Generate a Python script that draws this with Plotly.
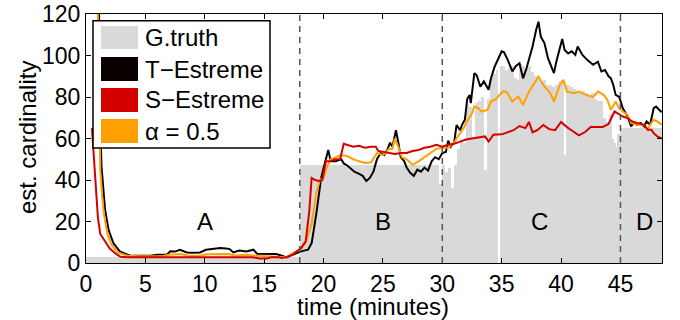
import plotly.graph_objects as go

# ---------------- data ----------------
# Ground truth: bar edges (minutes) and values
gt_edges = [0, 18, 29.5, 29.75, 30.0, 30.25, 30.5, 30.75, 31.0, 31.25, 31.5, 31.75,
            32.0, 32.25, 32.5, 32.75, 33.0, 33.25, 33.5, 33.75, 34.0, 34.25, 34.5,
            34.7, 34.82, 35.25, 35.5, 35.75, 36.0, 36.25, 36.5, 36.75, 37.0, 37.25,
            37.5, 37.75, 38.0, 38.25, 38.5, 38.75, 39.0, 39.25, 39.5, 39.75, 40.0,
            40.25, 40.4, 40.75, 41.0, 41.25, 41.5, 41.75, 42.0, 42.25, 42.5, 42.75,
            43.0, 43.25, 43.5, 43.75, 44.0, 44.25, 44.5, 44.65, 44.75, 45.0, 48.5]
gt_values = [3, 47, 47, 38, 47, 44, 46, 36, 47, 55, 60, 58,
             76, 75, 60, 77, 78, 80, 45, 79, 89, 91, 93,
             0, 95, 93, 94, 95, 89, 88, 96, 95, 94, 95,
             92, 90, 88, 87, 88, 86, 86, 85, 86, 87, 88,
             52, 86, 85, 84, 83, 82, 83, 82, 81, 82, 79,
             78, 78, 70, 68, 72, 60, 58, 56, 62, 65]

t_time = [1.1, 1.15, 1.3, 1.45, 1.6, 1.9, 2.3, 2.85, 3.7, 4.5, 5.4, 6.0, 6.8, 7.1, 7.5, 7.9,
          8.5, 9.0, 9.6, 10.1, 10.7, 11.3, 11.8, 12.1, 12.4, 12.9, 13.5, 14.1, 14.4, 15.2,
          16.0, 16.5, 16.9, 17.4, 18.1, 18.7, 19.0, 19.4, 19.8, 20.1, 20.4, 20.6, 21.0,
          21.5, 21.7, 22.0, 22.3, 22.6, 23.0, 23.3, 23.6, 23.9, 24.2, 24.5, 24.8, 25.1,
          25.4, 25.6, 25.8, 26.0, 26.1, 26.3, 26.5, 26.8, 27.0, 27.3, 27.6, 27.9, 28.2,
          28.5, 28.8, 29.1, 29.4, 29.7, 30.0, 30.3, 30.5, 30.7, 31.0, 31.2, 31.5, 31.7,
          31.9, 32.1, 32.3, 32.4, 32.7, 32.9, 33.2, 33.5, 33.9, 34.1, 34.4, 34.8, 35.0,
          35.2, 35.5, 35.9, 36.2, 36.5, 36.8, 37.1, 37.4, 37.6, 37.9, 38.1, 38.3, 38.6,
          38.9, 39.2, 39.4, 39.6, 39.8, 40.1, 40.3, 40.6, 40.9, 41.2, 41.4, 41.8, 42.2,
          42.7, 43.1, 43.4, 43.7, 44.0, 44.2, 44.4, 44.6, 44.9, 45.2, 45.6, 45.9, 46.1,
          46.4, 46.7, 47.0, 47.2, 47.5, 47.8, 48.0, 48.4, 48.5]
t_estreme = [120, 80, 47, 35, 26, 16, 9.6, 5.6, 3.5, 3.5, 3.5, 4, 4, 5.6, 5.5, 6.4,
             5.1, 5, 5.1, 6.4, 6.8, 7.2, 7, 6.7, 5.1, 6, 5.6, 6.4, 4.5, 4.3,
             4.3, 3.5, 2.7, 4, 5.6, 6.4, 9.6, 24, 41, 48, 54.5, 49, 49,
             50, 48, 47, 45.5, 44, 43, 42, 39.5, 41, 44, 50, 53, 52,
             55, 58, 56, 62, 64, 58, 51, 49, 46, 43.5, 42, 45, 44,
             46, 44.5, 49, 51, 50, 53, 53.5, 59, 56, 58, 66.5, 64, 67,
             69, 79, 81, 77, 91.5, 90.5, 85, 87.5, 83.5, 89, 94.5, 99.5, 102,
             101.5, 98, 92.3, 95, 96.3, 89, 94, 100, 104.3, 112.3, 116.3, 109, 106,
             98.7, 94, 91.5, 97, 102, 108, 102.7, 101, 102, 100.3, 104.3, 100.3, 97.9,
             95.5, 97, 92.3, 93, 90, 89, 85.8, 81, 80, 74.6, 70.6, 65.8, 67.5,
             66.6, 67.5, 65.8, 68.2, 66.6, 74.6, 75.4, 73, 73]

s_time = [0.5, 0.7, 0.85, 1.0, 1.2, 1.6, 2.0, 2.5, 2.9, 3.5, 5, 6, 7, 8, 9, 10, 11, 12,
          13, 14, 14.6, 15.2, 15.6, 16.2, 16.5, 16.9, 17.4, 18.1, 18.5, 18.8, 19.0, 19.3,
          19.6, 19.9, 20.2, 20.5, 21.0, 21.4, 21.7, 22.0, 22.5, 23.0, 23.5, 24.0, 24.4,
          24.6, 25.0, 25.5, 26.0, 26.5, 27.0, 27.5, 28.0, 28.5, 29.0, 29.5, 30.0, 30.5,
          31.0, 31.5, 32.0, 32.5, 33.0, 33.6, 33.9, 34.3, 35.0, 35.5, 36.0, 36.5, 37.0,
          37.3, 37.6, 38.0, 38.5, 39.0, 39.5, 40.0, 40.5, 41.0, 41.5, 42.0, 42.5, 43.0,
          43.5, 44.0, 44.5, 44.8, 45.2, 45.6, 46.0, 46.4, 47.0, 47.3, 47.6, 47.8, 48.1, 48.5]
s_estreme = [65, 50, 35, 22, 14, 10.5, 7, 4.5, 3, 2.8, 2.8, 2.8, 3, 2.8, 2.8, 3, 3, 2.8,
             2.8, 2.8, 2.2, 2.2, 2.8, 2.8, 2.4, 2.9, 4, 7.2, 10.4, 25, 41, 40,
             39.5, 40, 49, 49, 50, 50, 57.5, 57, 56, 56.5, 55.5, 56, 56,
             54, 53.5, 53, 52.5, 53, 53, 54, 54.5, 55.5, 56, 57, 56, 57,
             57.5, 58.5, 59.5, 60, 60.5, 61, 58.5, 61.8, 62, 63, 64, 66, 65,
             68, 63, 64, 66.5, 64.5, 64, 68, 65.5, 63.5, 61.5, 63, 65.5, 65.5,
             65.5, 67, 73, 72, 70.6, 69.8, 68.2, 67.5, 66.6, 64.2, 64.2, 62.6, 61, 60]

a_time = [1.0, 1.1, 1.2, 1.35, 1.5, 1.8, 2.2, 2.7, 3.5, 4.5, 5.5, 6.5, 7.0, 8.0, 8.6, 9.5,
          10.2, 11.0, 12.0, 12.5, 13.5, 14.3, 15.5, 16.5, 16.9, 17.4, 18.1, 18.5, 19.0,
          19.4, 19.7, 20.0, 20.3, 20.6, 21.0, 21.5, 22.0, 22.5, 23.0, 23.5, 24.0, 24.5,
          25.0, 25.5, 25.8, 26.0, 26.3, 26.6, 27.0, 27.5, 28.0, 28.5, 29.0, 29.5, 30.0,
          30.5, 31.0, 31.3, 31.8, 32.15, 32.5, 32.7, 33.0, 33.3, 33.8, 34.1, 34.5, 34.8,
          35.1, 35.4, 35.9, 36.4, 36.8, 37.3, 37.8, 38.1, 38.5, 39.1, 39.4, 39.9, 40.2,
          40.5, 41.1, 41.5, 42.1, 42.7, 43.1, 43.6, 43.9, 44.2, 44.6, 44.9, 45.2, 45.6,
          45.9, 46.4, 47.0, 47.3, 47.5, 47.8, 48.1, 48.5]
a_half = [120, 70, 45, 33, 24, 14, 8.5, 5, 3.5, 3.2, 3.2, 3.4, 4, 4.3, 3.5, 3.5,
          4.2, 4.3, 4.3, 3.6, 4, 3.5, 3.3, 3, 2.8, 4.8, 6.7, 9.6, 19,
          34, 40, 41, 46.5, 50, 51, 52, 51.5, 50, 49, 48.2, 48.5, 53,
          52, 55, 55, 60, 56, 51, 50, 47.3, 49, 51, 53, 55, 55.5,
          55.5, 58, 61, 65, 69, 72, 75.4, 74.8, 73, 73.8, 77.8, 79, 81,
          82.6, 82.6, 77.8, 80.2, 76.2, 82.6, 87.4, 89.8, 85.8, 81.8, 77.8, 85.8, 88.3,
          82.6, 81.8, 82.6, 81, 80, 82.6, 81, 78.6, 73.8, 77.8, 74.6, 73, 71.4,
          67.5, 66.6, 66.6, 64.2, 66.6, 69, 68.2, 66.6]

phase_bounds = [18, 30, 45]
phase_names = ["A", "B", "C", "D"]
phase_label_x = [10, 25, 38.2, 47]
phase_label_y = [20, 20, 20, 20]

x_ticks = [0, 5, 10, 15, 20, 25, 30, 35, 40, 45]
y_ticks = [0, 20, 40, 60, 80, 100, 120]

series_names = ["G.truth", "T\u2212Estreme", "S\u2212Estreme", "\u03b1 = 0.5"]
series_colors = ["#d9d9d9", "#0a0000", "#d40000", "#ffa000"]
x_title = "time (minutes)"
y_title = "est. cardinality"

# ---------------- figure ----------------
FONT = "Liberation Sans, Arial, Helvetica, sans-serif"
W, H = 680, 320
PL, PR, PT, PB = 86, 662, 14, 263   # plot area in page pixels
L, T, R, B = PL, PT, W - PR, H - PB
PW, PH = PR - PL, PB - PT

def px(x):
    return (x - PL) / PW

def py(y):
    return (PB - y) / PH

gt_mid = [(gt_edges[i] + gt_edges[i + 1]) / 2 for i in range(len(gt_values))]
gt_w = [gt_edges[i + 1] - gt_edges[i] for i in range(len(gt_values))]

fig = go.Figure()
fig.add_trace(go.Bar(x=gt_mid, y=gt_values, width=gt_w, name=series_names[0],
                     marker=dict(color=series_colors[0], line=dict(width=0)),
                     showlegend=False))
fig.add_trace(go.Scatter(x=t_time, y=t_estreme, mode="lines", name=series_names[1],
                         line=dict(color=series_colors[1], width=2), showlegend=False))
fig.add_trace(go.Scatter(x=a_time, y=a_half, mode="lines", name=series_names[3],
                         line=dict(color=series_colors[3], width=2), showlegend=False))
fig.add_trace(go.Scatter(x=s_time, y=s_estreme, mode="lines", name=series_names[2],
                         line=dict(color=series_colors[2], width=2), showlegend=False))

shapes = []
for b in phase_bounds:
    shapes.append(dict(type="line", xref="x", yref="paper", x0=b, x1=b, y0=0, y1=1,
                       line=dict(color="#555555", width=1.5, dash="6px,5px"),
                       layer="above"))

# legend box (MATLAB style with filled swatches)
shapes.append(dict(type="rect", xref="paper", yref="paper",
                   x0=px(93), x1=px(270), y0=py(148), y1=py(20.7),
                   fillcolor="white", line=dict(color="black", width=1.5), layer="above"))
rows = [(26, 49), (57, 81), (88, 112), (119, 143)]
annotations = []
for (y0, y1), name, col in zip(rows, series_names, series_colors):
    shapes.append(dict(type="rect", xref="paper", yref="paper",
                       x0=px(101), x1=px(138), y0=py(y1), y1=py(y0),
                       fillcolor=col, line=dict(width=0), layer="above"))
    annotations.append(dict(x=px(143), y=py((y0 + y1) / 2), xref="paper", yref="paper",
                            text=name, showarrow=False, xanchor="left", yanchor="middle",
                            font=dict(family=FONT, size=24, color="black")))

for name, lx, ly in zip(phase_names, phase_label_x, phase_label_y):
    annotations.append(dict(x=lx, y=ly, xref="x", yref="y", text=name, showarrow=False,
                            xanchor="center", yanchor="middle",
                            font=dict(family=FONT, size=24, color="black")))

# axis titles
annotations.append(dict(x=px(373), y=py(306), xref="paper", yref="paper", text=x_title,
                        showarrow=False, xanchor="center", yanchor="middle",
                        font=dict(family=FONT, size=24, color="black")))
annotations.append(dict(x=px(27), y=py(138), xref="paper", yref="paper", text=y_title,
                        showarrow=False, xanchor="center", yanchor="middle", textangle=-90,
                        font=dict(family=FONT, size=24, color="black")))

axis_common = dict(showline=True, linecolor="black", linewidth=1.2, mirror="ticks",
                   ticks="inside", ticklen=5, tickwidth=1, tickcolor="black",
                   showgrid=False, zeroline=False, automargin=False,
                   ticklabeloverflow="allow",
                   tickfont=dict(family=FONT, size=23, color="black"))

fig.update_layout(
    width=W, height=H,
    margin=dict(l=L, r=R, t=T, b=B, pad=0, autoexpand=False),
    paper_bgcolor="white", plot_bgcolor="white",
    barmode="overlay", bargap=0,
    shapes=shapes, annotations=annotations,
    showlegend=False,
    xaxis=dict(range=[0, 48.5], tickvals=x_ticks, **axis_common),
    yaxis=dict(range=[0, 120], tickvals=y_ticks, **axis_common),
)

fig.write_html("out.html", config={"displayModeBar": False},
               post_script="document.body.style.margin='0';")
